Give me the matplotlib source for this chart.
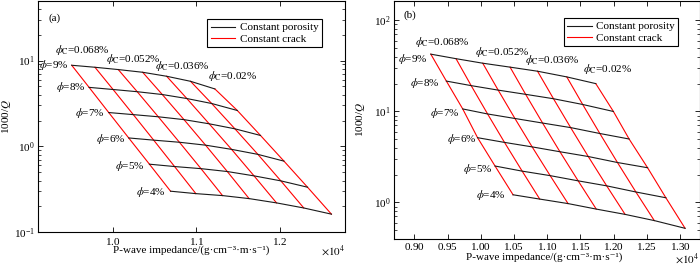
import matplotlib
matplotlib.use('Agg')
import matplotlib.pyplot as plt
from matplotlib.ticker import ScalarFormatter, MultipleLocator

plt.rcParams['font.family'] = ['Liberation Serif', 'DejaVu Serif']
plt.rcParams['mathtext.fontset'] = 'stix'
plt.rcParams['font.size'] = 8

porosity = [9, 8, 7, 6, 5, 4]                      # %
crack = [0.068, 0.060, 0.052, 0.044, 0.036, 0.028, 0.020]  # %
crack_labelled = [0.068, 0.052, 0.036, 0.020]

# panel (a): rows = porosity 9..4 %, columns = crack 0.068..0.020 %
imp_a = [
    [9510, 9788, 10067, 10359, 10646, 10932, 11223],
    [9718, 10005, 10294, 10594, 10888, 11185, 11492],
    [9953, 10247, 10546, 10854, 11155, 11463, 11769],
    [10192, 10491, 10799, 11112, 11423, 11738, 12050],
    [10440, 10741, 11057, 11372, 11692, 12013, 12332],
    [10693, 10996, 11315, 11633, 11961, 12287, 12618],
]
q_a = [
    [8.81, 8.35, 7.85, 7.30, 6.56, 5.73, 4.67],
    [4.87, 4.60, 4.335, 4.02, 3.61, 3.16, 2.62],
    [2.48, 2.345, 2.213, 2.05, 1.834, 1.603, 1.342],
    [1.255, 1.183, 1.118, 1.034, 0.924, 0.808, 0.674],
    [0.621, 0.583, 0.551, 0.510, 0.454, 0.397, 0.335],
    [0.301, 0.282, 0.2676, 0.2468, 0.220, 0.192, 0.1627],
]

# panel (b)
imp_b = [
    [9249, 9628, 10030, 10441, 10854, 11294, 11730],
    [9483, 9856, 10262, 10675, 11094, 11533, 11995],
    [9729, 10103, 10514, 10930, 11352, 11791, 12231],
    [9952, 10357, 10773, 11191, 11617, 12056, 12509],
    [10215, 10623, 11044, 11465, 11894, 12333, 12784],
    [10486, 10887, 11313, 11737, 12171, 12610, 13073],
]
q_b = [
    [42.5, 37.9, 33.8, 30.6, 27.6, 23.9, 20.17],
    [21.5, 19.17, 17.11, 15.38, 13.76, 11.90, 9.97],
    [10.63, 9.36, 8.35, 7.44, 6.63, 5.71, 4.97],
    [5.136, 4.56, 4.07, 3.60, 3.19, 2.741, 2.402],
    [2.508, 2.204, 1.967, 1.724, 1.519, 1.301, 1.124],
    [1.212, 1.087, 0.970, 0.844, 0.738, 0.631, 0.519],
]

RED = '#ff0000'
BLACK = '#1a1a1a'
XLABEL = 'P-wave impedance/(g\u00b7cm\u207b\u00b3\u00b7m\u00b7s\u207b\u00b9)'


def draw(ax, imp, q, xlim, ylim, xstep, tag, tagpos, legpos, c_off, p_off,
         ylab_x, xlab_pos, offs_y, xpad):
    nrow = len(porosity)
    ncol = len(crack)
    for k in range(ncol):
        ax.plot([imp[i][k] for i in range(nrow)], [q[i][k] for i in range(nrow)],
                color=RED, lw=0.8, label='Constant crack' if k == 0 else None, zorder=2)
    for i in range(nrow):
        ax.plot(imp[i], q[i], color=BLACK, lw=0.8,
                label='Constant porosity' if i == 0 else None, zorder=3)
    # porosity labels
    for i, p in enumerate(porosity):
        ax.annotate(r'$\phi$=%d%%' % p, (imp[i][0], q[i][0]),
                    xytext=p_off[i], textcoords='offset pixels',
                    ha='right', va='center')
    # crack labels
    for j, c in enumerate(crack_labelled):
        k = crack.index(c)
        txt = (r'$\phi_{\mathrm{C}}$=%g%%' % c)
        ax.annotate(txt, (imp[0][k], q[0][k]), xytext=c_off[j],
                    textcoords='offset pixels', ha='left', va='center')
    ax.set_yscale('log')
    ax.set_xlim(*xlim)
    ax.set_ylim(*ylim)
    ax.xaxis.set_major_locator(MultipleLocator(xstep))
    fmt = ScalarFormatter(useMathText=True)
    fmt.set_powerlimits((4, 4))
    ax.xaxis.set_major_formatter(fmt)
    ax.xaxis.get_offset_text().set_visible(False)
    ax.text(1.0, offs_y, r'$\times 10^{4}$', transform=ax.transAxes,
            ha='right', va='center')
    ax.tick_params(which='both', direction='in', top=True, right=True)
    ax.tick_params(which='major', length=3.5, width=0.6, pad=2.5)
    ax.tick_params(axis='x', which='major', pad=xpad)
    ax.tick_params(which='minor', length=2, width=0.5)
    for s in ax.spines.values():
        s.set_linewidth(0.8)
    ax.set_xlabel(XLABEL)
    ax.xaxis.set_label_coords(*xlab_pos)
    ax.set_ylabel(r'1000/$Q$')
    ax.yaxis.set_label_coords(ylab_x, 0.5)
    ax.text(tagpos[0], tagpos[1], tag, transform=ax.transAxes, ha='left', va='center')
    h, l = ax.get_legend_handles_labels()
    order = [l.index('Constant porosity'), l.index('Constant crack')]
    leg = ax.legend([h[o] for o in order], [l[o] for o in order], loc='upper right',
                    bbox_to_anchor=legpos, borderaxespad=0, fancybox=False,
                    edgecolor='black', framealpha=1, handlelength=2.2,
                    handletextpad=0.4, labelspacing=0.15, borderpad=0.3)
    leg.get_frame().set_linewidth(0.8)


fig = plt.figure(figsize=(7, 2.66), dpi=100)
axa = fig.add_axes([0.0547, 0.1267, 0.4381, 0.8714])
axb = fig.add_axes([0.5633, 0.103, 0.436, 0.895])

draw(axa, imp_a, q_a, (9110, 12780), (0.1, 50), 1000, '(a)', (0.033, 0.923),
     (0.924, 0.919),
     [(-16.7, 15.7), (-12.3, 10.7), (-11.7, 10.0), (-7, 13.3)],
     [(-3, 0), (-3, 0), (-4, 0), (-3, -1.5), (-5, -1.5), (-5, -1)],
     -0.084, (0.5, -0.058), -0.081, 2.5)
draw(axb, imp_b, q_b, (8700, 13290), (0.4, 165), 500, '(b)', (0.03, 0.939),
     (0.9305, 0.925),
     [(-15.8, 12.1), (-7.7, 11.1), (-12.5, 10.8), (-12.4, 14.9)],
     [(-3.5, -5), (-7, -1.6), (-3, -3.8), (-1, -1.5), (-2.3, -2.5), (-7, -0.5)],
     -0.089, (0.49, -0.058), -0.086, 1.5)

fig.savefig('out.png', dpi=100)
